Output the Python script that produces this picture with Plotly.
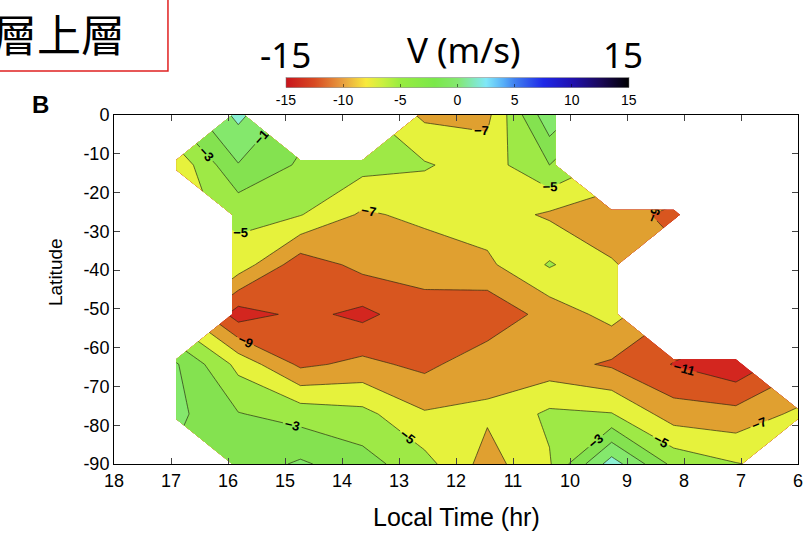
import plotly.graph_objects as go

# Grid of the contour data (local time in hours, latitude in degrees)
local_time = [6.0, 7.09, 8.18, 9.27, 10.36, 11.45, 12.55, 13.64, 14.73, 15.82, 16.91]
latitude = [0, -12.9, -25.7, -38.6, -51.4, -64.3, -77.1, -90]

N = None
# V (m/s), one row per latitude, columns follow local_time
v_lat_0 = [N, N, N, N, 0.5, -7.5, -7.4, N, N, 1.5, N]
v_lat_13 = [N, N, N, N, -3.0, -6.0, -4.8, -4.3, -3.3, -1.1, -6.5]
v_lat_26 = [N, N, -9.4, -8.3, -7.3, -6.0, -6.5, -7.3, -4.9, -4.5, N]
v_lat_39 = [N, N, N, -6.8, -4.8, -7.4, -8.3, -8.4, -10.2, -5.8, N]
v_lat_51 = [N, N, N, -6.3, -8.2, -10.5, -9.7, -11.5, -10.45, -12.0, N]
v_lat_64 = [N, -12.5, -11.1, -9.3, -8.2, -7.7, -9.5, -8.5, -9.4, -5.6, -0.8]
v_lat_77 = [-6.6, -8.3, -8.0, -4.9, -4.6, -6.7, -6.8, -4.4, -3.8, -2.9, -0.5]
v_lat_90 = [N, -4.9, -3.6, 2.0, -5.2, -7.8, -4.3, -2.2, -0.7, -2.2, N]

x_ticks = list(range(6, 19))
y_ticks = list(range(-90, 1, 10))
y_tick_text = ["-90", "-80", "-70", "-60", "-50", "-40", "-30", "-20", "-10", "0"]
cbar_ticks = [-15, -10, -5, 0, 5, 10, 15]
cbar_tick_text = ["-15", "-10", "-5", "0", "5", "10", "15"]

z = [v_lat_0, v_lat_13, v_lat_26, v_lat_39, v_lat_51, v_lat_64, v_lat_77, v_lat_90]

# fill colours sampled at band mid-points (position = (v+16)/32)
fill_scale = [
    [0.0, "#c81818"], [0.0625, "#cc1f1f"], [0.125, "#d3261f"],
    [0.1875, "#d8561f"], [0.25, "#e0a030"], [0.3125, "#e6f23c"],
    [0.375, "#9ee946"], [0.4375, "#84e250"], [0.5, "#84e86c"],
    [0.5625, "#8cf0d4"], [0.625, "#60b0f0"], [0.6875, "#3060e8"],
    [0.75, "#2020d0"], [0.8125, "#2010a0"], [0.875, "#180860"],
    [0.9375, "#0a0420"], [1.0, "#000000"],
]

# continuous colour bar (position = (v+15)/30)
bar_scale = [
    [0.0, "#c8141c"], [0.0833, "#d84a22"], [0.1667, "#e8a040"],
    [0.2333, "#f8ea3c"], [0.2833, "#c8f040"], [0.3333, "#98ec40"],
    [0.4333, "#7ae84a"], [0.5, "#84e870"], [0.5833, "#80e8f8"],
    [0.6333, "#58b0f8"], [0.6667, "#4080f0"], [0.75, "#1e28e8"],
    [0.8333, "#2010b0"], [0.9167, "#1a0858"], [1.0, "#000000"],
]

fig = go.Figure()
fig.add_trace(go.Contour(
    x=local_time, y=latitude, z=z,
    connectgaps=False,
    autocontour=False,
    contours=dict(start=-15, end=15, size=2, coloring="fill",
                  showlabels=True,
                  labelfont=dict(size=13, color="black", family="Liberation Sans", weight="bold")),
    colorscale=fill_scale,
    showscale=False,
    line=dict(color="rgba(40,40,20,0.85)", width=0.8, smoothing=0),
    hoverinfo="skip",
))

fig.add_trace(go.Scatter(
    x=[None], y=[None], mode="markers", hoverinfo="skip", showlegend=False,
    marker=dict(color=[-15, 15], cmin=-15, cmax=15, colorscale=bar_scale, showscale=True,
                colorbar=dict(orientation="h", x=0.502, xanchor="center", y=1.0086, yanchor="bottom",
                              lenmode="pixels", len=343, thicknessmode="pixels", thickness=10,
                              tickvals=cbar_ticks, ticktext=cbar_tick_text,
                              ticks="inside", ticklen=3,
                              tickcolor="rgba(0,0,0,0.5)", outlinewidth=0.5, outlinecolor="#777",
                              ypad=0, xpad=0,
                              tickfont=dict(size=14, family="Liberation Sans", color="black"))),
))

axis_font = dict(size=18, family="Liberation Sans", color="black")
fig.update_xaxes(range=[18, 6], tickvals=x_ticks, ticks="inside", ticklen=6, mirror="ticks",
                 showline=True, linecolor="black", linewidth=1, showgrid=False, zeroline=False,
                 tickfont=axis_font)
fig.update_yaxes(range=[-90, 0], tickvals=y_ticks, ticktext=y_tick_text, ticks="inside", ticklen=6,
                 mirror="ticks",
                 showline=True, linecolor="black", linewidth=1, showgrid=False, zeroline=False,
                 tickfont=axis_font)

big = dict(size=35, family="Noto Sans", color="black")
def ann(text, x, y, font, **kw):
    return dict(text=text, x=x, y=y, xref="paper", yref="paper", showarrow=False,
                xanchor="center", yanchor="middle", font=font, **kw)

annotations = [
    ann("Local Time (hr)", 0.5, -0.152, dict(size=25, family="Liberation Sans", color="black")),
    ann("Latitude", -0.0863, 0.55, dict(size=19, family="Liberation Sans", color="black"), textangle=-90),
    ann("<b>B</b>", -0.108, 1.0287, dict(size=24, family="Liberation Sans", color="black")),
    ann("-15", 0.25, 1.172, big),
    ann("V (m/s)", 0.5117, 1.189, big),
    ann("15", 0.744, 1.172, big),
    ann("層上層", -0.0804, 1.235, dict(size=44, family="Noto Sans CJK TC", color="black")),
]

fig.update_layout(
    width=808, height=533,
    margin=dict(l=114, r=10, t=115, b=69, autoexpand=False),
    paper_bgcolor="white", plot_bgcolor="white",
    annotations=annotations,
    shapes=[dict(type="rect", xref="paper", yref="paper", x0=-0.3, x1=0.0789, y0=1.126, y1=1.4,
                 line=dict(color="#e02020", width=1.5))],
    showlegend=False,
)

fig.write_html("out.html")
